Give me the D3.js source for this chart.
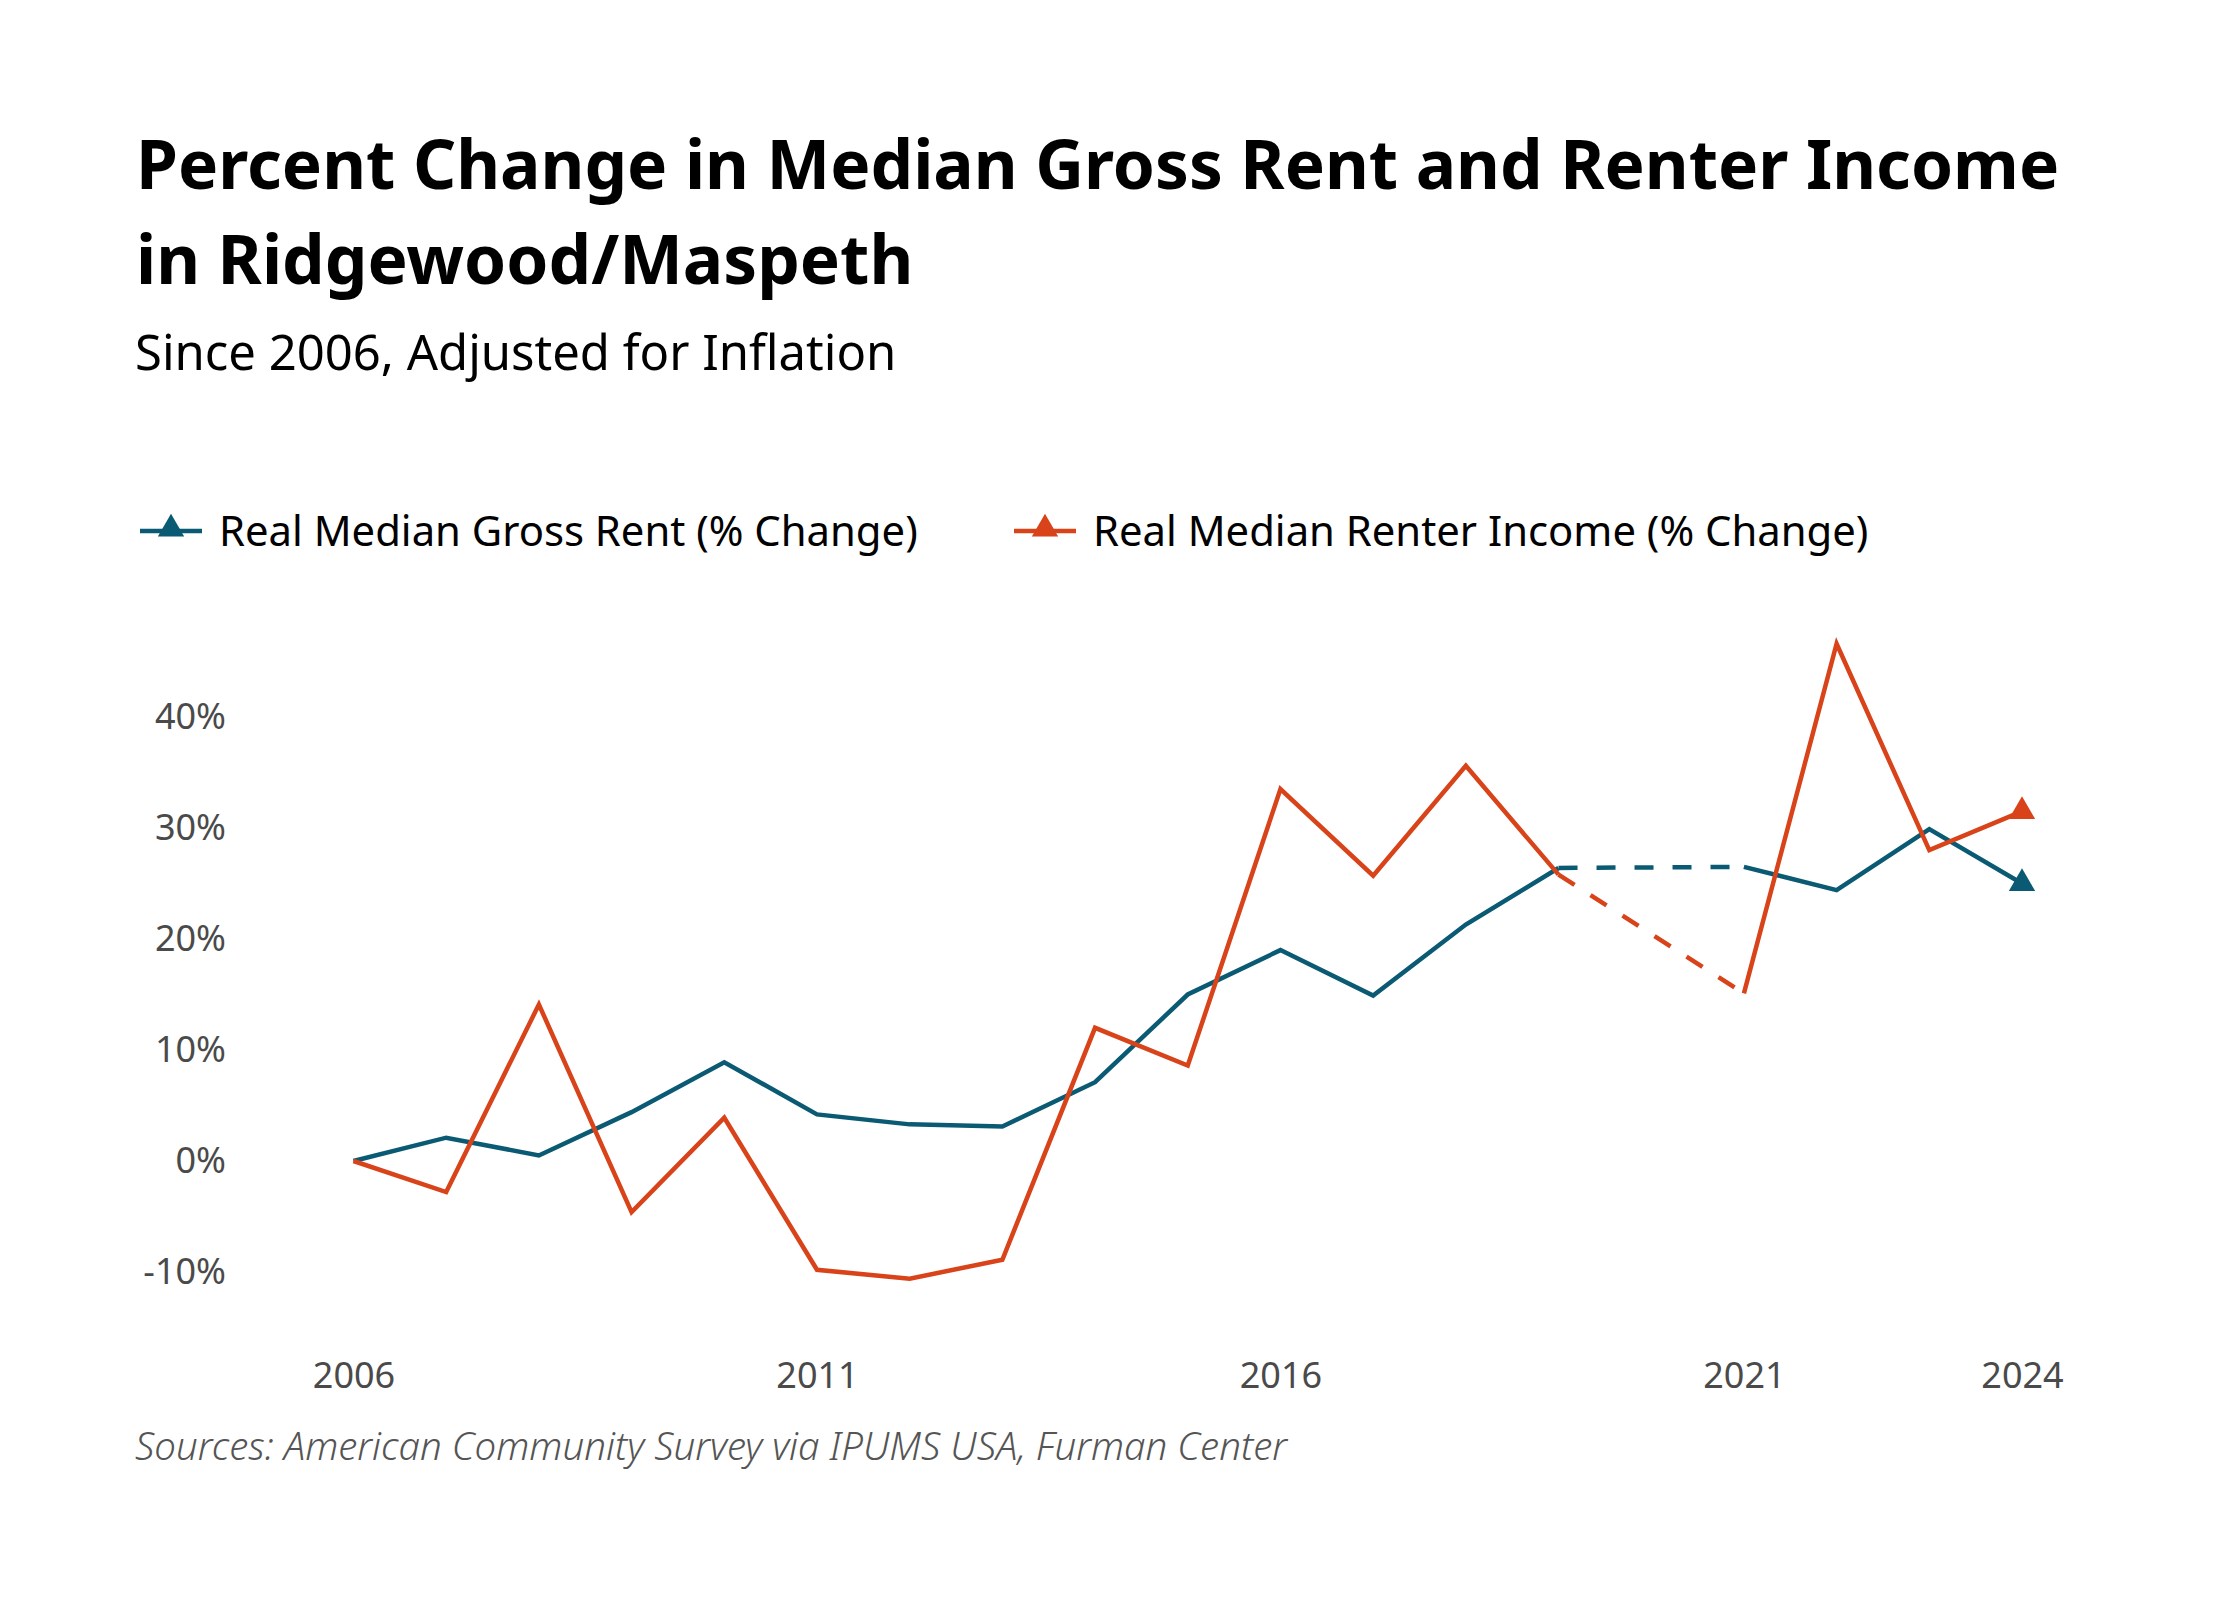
<!DOCTYPE html>
<html>
<head>
<meta charset="utf-8">
<script src="https://cdn.jsdelivr.net/npm/d3@7"></script>
<style>
  body { margin: 0; background: #fff; }
  svg { display: block; }
</style>
</head>
<body>
<svg id="chart" width="2240" height="1600"></svg>
<script>
// data, 2020 has no estimate (dashed bridge)
const years = [2006, 2007, 2008, 2009, 2010, 2011, 2012, 2013, 2014, 2015,
    2016, 2017, 2018, 2019, 2020, 2021, 2022, 2023, 2024];
const rentChange = [0, 2.1, 0.5, 4.4, 8.9, 4.2, 3.3, 3.1, 7.1, 15.0,
    19.0, 14.9, 21.3, 26.4, null, 26.5, 24.4, 29.9, 25.0];
const incomeChange = [0, -2.8, 14.1, -4.6, 3.9, -9.8, -10.6, -8.9, 12.0, 8.6,
    33.5, 25.7, 35.6, 25.8, null, 15.1, 46.6, 28.0, 31.5];
const yTicks = [-10, 0, 10, 20, 30, 40];
const xTicks = [2006, 2011, 2016, 2021, 2024];
const seriesNames = ['Real Median Gross Rent (% Change)', 'Real Median Renter Income (% Change)'];

const BLUE = '#0b5a73';
const ORANGE = '#d8431a';
const FONT = "'Noto Sans', 'Open Sans', sans-serif";

const svg = d3.select('#chart');
svg.append('rect').attr('width', 2240).attr('height', 1600).attr('fill', '#fff');

const x = d3.scaleLinear().domain([2006, 2024]).range([353.5, 2022]);
const y = d3.scaleLinear().domain([-10, 40]).range([1272, 717]);

// titles
svg.append('text')
    .attr('x', 136).attr('y', 189)
    .style('font-family', FONT).style('font-weight', 700).style('font-size', '67.5px')
    .attr('fill', '#000')
    .text('Percent Change in Median Gross Rent and Renter Income');
svg.append('text')
    .attr('x', 136).attr('y', 284)
    .style('font-family', FONT).style('font-weight', 700).style('font-size', '67.5px')
    .attr('fill', '#000')
    .text('in Ridgewood/Maspeth');
svg.append('text')
    .attr('x', 135).attr('y', 370)
    .style('font-family', FONT).style('font-size', '49px')
    .attr('fill', '#000')
    .text('Since 2006, Adjusted for Inflation');

// legend
const legendItems = [
    {name: seriesNames[0], color: BLUE, x0: 140},
    {name: seriesNames[1], color: ORANGE, x0: 1014}
];
const leg = svg.append('g').attr('class', 'legend');
legendItems.forEach(function (it) {
    leg.append('line')
        .attr('x1', it.x0).attr('x2', it.x0 + 62)
        .attr('y1', 531).attr('y2', 531)
        .attr('stroke', it.color).attr('stroke-width', 4.5);
    leg.append('path')
        .attr('d', d3.symbol(d3.symbolTriangle, 300)())
        .attr('transform', `translate(${it.x0 + 31},529)`)
        .attr('fill', it.color);
    leg.append('text')
        .attr('x', it.x0 + 79).attr('y', 546)
        .style('font-family', FONT).style('font-size', '41.8px')
        .attr('fill', '#000')
        .text(it.name);
});

// axes
const yAxis = svg.append('g')
    .attr('transform', 'translate(226,0)')
    .call(d3.axisLeft(y).tickValues(yTicks).tickSize(0).tickPadding(0)
        .tickFormat(d => d + '%'));
const xAxis = svg.append('g')
    .attr('transform', 'translate(0,1362)')
    .call(d3.axisBottom(x).tickValues(xTicks).tickSize(0).tickPadding(0)
        .tickFormat(d3.format('d')));
[yAxis, xAxis].forEach(function (ax) {
    ax.select('.domain').remove();
    ax.selectAll('text')
        .style('font-family', FONT).style('font-size', '36px')
        .attr('fill', '#4a4a4a');
});

// lines
const series = [
    {values: rentChange, color: BLUE},
    {values: incomeChange, color: ORANGE}
];

series.forEach(function (s) {
    const pts = years.map((yr, i) => ({year: yr, value: s.values[i]}));
    const solid = d3.line()
        .defined(d => d.value != null)
        .x(d => x(d.year))
        .y(d => y(d.value));
    svg.append('path')
        .datum(pts)
        .attr('d', solid)
        .attr('fill', 'none')
        .attr('stroke', s.color)
        .attr('stroke-width', 4.5)
        .attr('stroke-linejoin', 'miter');

    // dashed bridges over missing years
    const known = pts.filter(d => d.value != null);
    const gaps = [];
    for (let i = 1; i < known.length; i++) {
        if (years.indexOf(known[i].year) - years.indexOf(known[i - 1].year) > 1) {
            gaps.push([known[i - 1], known[i]]);
        }
    }
    svg.selectAll(null)
        .data(gaps)
        .join('path')
        .attr('d', d3.line().x(d => x(d.year)).y(d => y(d.value)))
        .attr('fill', 'none')
        .attr('stroke', s.color)
        .attr('stroke-width', 4.5)
        .attr('stroke-dasharray', '19,19');

    const last = known[known.length - 1];
    svg.append('path')
        .attr('d', d3.symbol(d3.symbolTriangle, 300)())
        .attr('transform', `translate(${x(last.year)},${y(last.value)})`)
        .attr('fill', s.color);
});

// source
svg.append('text')
    .attr('x', 135).attr('y', 1460)
    .style('font-family', FONT).style('font-style', 'italic').style('font-weight', 300)
    .style('font-size', '38.5px')
    .attr('fill', '#555')
    .text('Sources: American Community Survey via IPUMS USA, Furman Center');
</script>
</body>
</html>
